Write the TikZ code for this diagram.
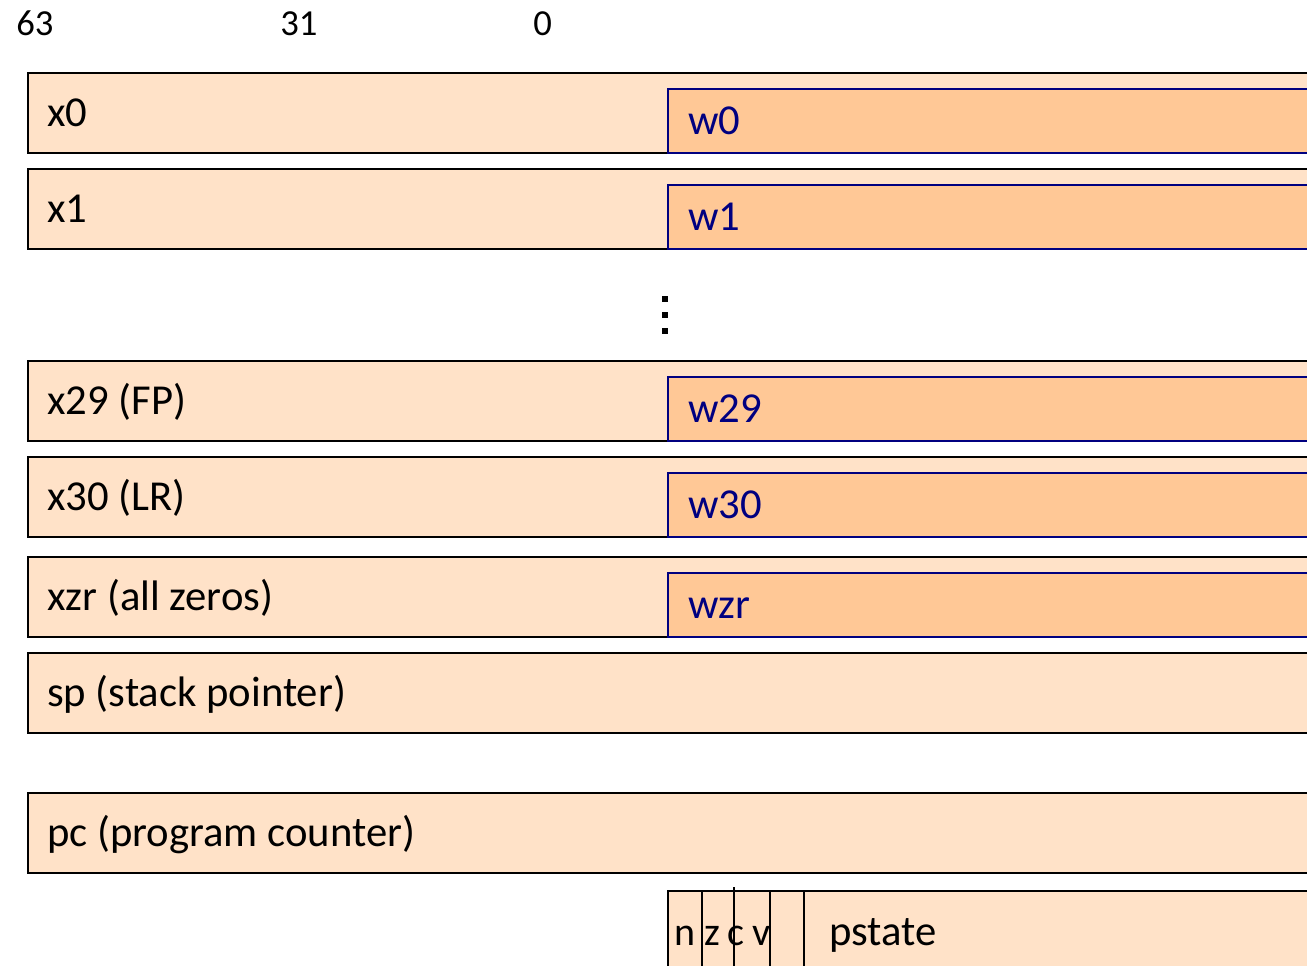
\documentclass[tikz,border=0pt]{standalone}
\usepackage{fontspec}
\setmainfont{Carlito}
\definecolor{regfill}{HTML}{FFE2C8}
\definecolor{wfill}{HTML}{FFC896}
\definecolor{wline}{HTML}{000080}
\begin{document}
\begin{tikzpicture}[x=0.75pt,y=-0.75pt,
  xbox/.style={draw=black,fill=regfill,line width=1.5pt,anchor=north west,
    minimum width=969pt,minimum height=60pt,inner sep=0pt,outer sep=0pt},
  wbox/.style={draw=wline,fill=wfill,line width=1.5pt,anchor=north west,
    minimum width=489pt,minimum height=48pt,inner sep=0pt,outer sep=0pt},
  lbl/.style={anchor=base west,inner sep=0pt,font=\fontsize{32}{38}\selectfont},
  wlbl/.style={lbl,text=wline},
  bitnum/.style={anchor=base west,inner sep=0pt,font=\fontsize{27.5}{32}\selectfont},
  flag/.style={anchor=base west,inner sep=0pt,font=\fontsize{30}{36}\selectfont},
  divider/.style={draw=black,line width=1.5pt}]
\useasboundingbox (0,0) rectangle (1307,965);
\clip (0,0) rectangle (1307,965);

% bit positions
\node[bitnum] (b63) at (16,35) {63};
\node[bitnum] (b31) at (280,35) {31};
\node[bitnum] (b0)  at (533,35) {0};

% general purpose registers with their 32-bit views
\foreach \n/\t/\xl/\wl in {x0/73/x0/w0, x1/169/x1/w1, x29/361/x29 (FP)/w29,
    x30/457/x30 (LR)/w30, xzr/557/xzr (all zeros)/wzr} {
  \node[xbox] (\n) at (28,\t) {};
  \node[wbox] (w\n) at (668,{\t+16}) {};
  \node[lbl] (\n-label) at (47,{\t+53}) {\xl};
  \node[wlbl] (w\n-label) at (688,{\t+61}) {\wl};
}

% vertical ellipsis between x1 and x29
\fill (662,296) rectangle (668,302);
\fill (662,312) rectangle (668,318);
\fill (662,328) rectangle (668,334);

% stack pointer and program counter
\node[xbox] (sp) at (28,653) {};
\node[lbl] (sp-label) at (47,706) {sp (stack pointer)};
\node[xbox] (pc) at (28,793) {};
\node[lbl] (pc-label) at (47,846) {pc (program counter)};

% processor state with condition flags
\node[xbox,minimum width=489pt,minimum height=63pt] (pstate) at (668,891) {};
\node[flag] (fn) at (674,945) {n};
\node[flag] (fz) at (704,945) {z};
\node[flag] (fc) at (727,945) {c};
\node[flag] (fv) at (752,945) {v};
\node[lbl] (pstate-label) at (829,945) {pstate};
\draw[divider] (702,891) -- (702,970);
\draw[divider] (734,887) -- (734,970);
\draw[divider] (770,891) -- (770,970);
\draw[divider] (804,891) -- (804,970);
\end{tikzpicture}
\end{document}
